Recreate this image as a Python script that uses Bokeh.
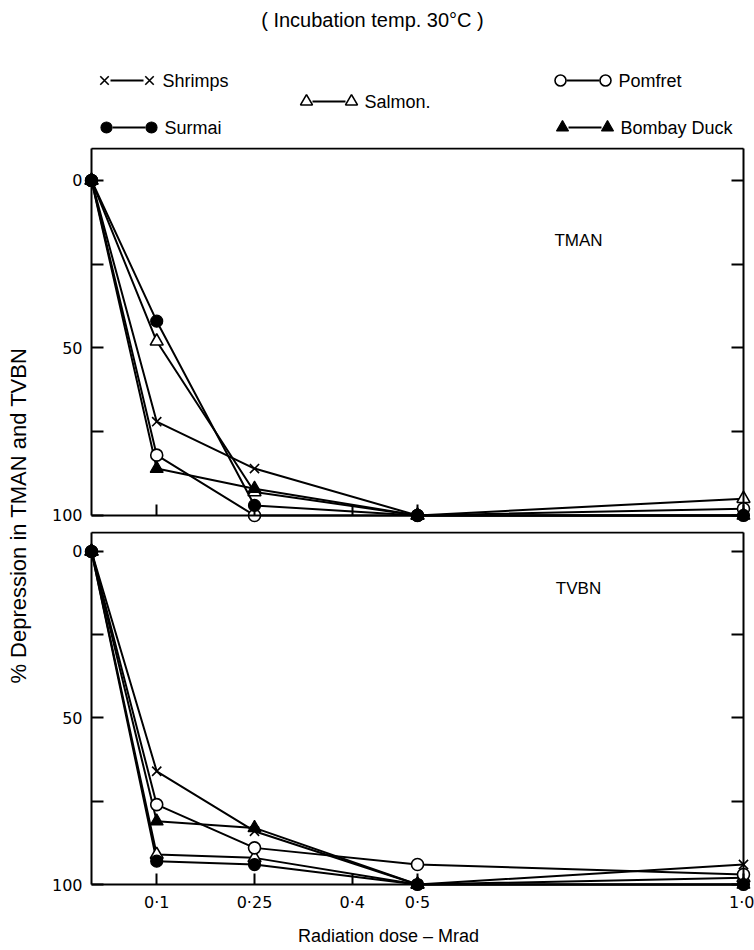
import math
from bokeh.plotting import figure
from bokeh.layouts import column, row
from bokeh.models import Range1d, LinearAxis, FixedTicker, CustomJSTickFormatter
from bokeh.embed import file_html
from bokeh.resources import INLINE
from bokeh.core.properties import value

# ---------------- data ----------------
dose = [0, 0.1, 0.25, 0.5, 1.0]
series = ["Shrimps", "Salmon.", "Pomfret", "Surmai", "Bombay Duck"]

tman_shrimps = [0, 72, 86, 100, 100]
tman_salmon = [0, 48, 93, 100, 95]
tman_pomfret = [0, 82, 100, 100, 98]
tman_surmai = [0, 42, 97, 100, 100]
tman_bombay = [0, 86, 92, 100, 100]

tvbn_shrimps = [0, 66, 84, 100, 94]
tvbn_salmon = [0, 91, 92, 100, 98]
tvbn_pomfret = [0, 76, 89, 94, 97]
tvbn_surmai = [0, 93, 94, 100, 100]
tvbn_bombay = [0, 81, 83, 100, 100]

x_ticks = [0.1, 0.25, 0.4, 0.5, 1.0]
x_tick_labels = ["0·1", "0·25", "0·4", "0·5", "1·0"]
y_ticks = [0, 50, 100]
y_minor_ticks = [25, 75]

title_text = "( Incubation temp. 30°C )"
y_label = "% Depression in TMAN and TVBN"
x_label = "Radiation dose – Mrad"

tman = dict(zip(series, [tman_shrimps, tman_salmon, tman_pomfret, tman_surmai, tman_bombay]))
tvbn = dict(zip(series, [tvbn_shrimps, tvbn_salmon, tvbn_pomfret, tvbn_surmai, tvbn_bombay]))

# ---------------- styles ----------------
FONT = "Liberation Sans"
TICKFONT = "DejaVu Sans"
styles = {
    "Shrimps": dict(marker="x", size=13, fill="black", lw=1.6),
    "Salmon.": dict(marker="triangle", size=13, fill="white", lw=1.6),
    "Pomfret": dict(marker="circle", size=12, fill="white", lw=1.6),
    "Surmai": dict(marker="circle", size=12, fill="black", lw=1.2),
    "Bombay Duck": dict(marker="triangle", size=13, fill="black", lw=1.2),
}

W = 754
HEAD_H = 146
LAB_W = 40
XPAD = 0.0123
YPAD = 2.4


def blank(p):
    p.xgrid.visible = False
    p.ygrid.visible = False
    p.outline_line_color = None
    p.background_fill_color = None
    p.border_fill_color = None


def no_labels():
    return CustomJSTickFormatter(code="return '';")


def x_formatter():
    return CustomJSTickFormatter(args=dict(tv=x_ticks, tl=x_tick_labels), code="""
        for (let i = 0; i < tv.length; i++) {
            if (Math.abs(tv[i] - tick) < 1e-9) { return tl[i]; }
        }
        return '';
    """)


def lines_only(ax, tick_in):
    ax.axis_line_width = 2
    ax.major_tick_in = tick_in
    ax.major_tick_out = 0
    ax.minor_tick_in = tick_in
    ax.minor_tick_out = 0
    ax.major_tick_line_width = 2
    ax.minor_tick_line_width = 2
    ax.major_label_standoff = 0


def labels_only(ax, standoff):
    ax.axis_line_color = None
    ax.major_tick_line_color = None
    ax.minor_tick_line_color = None
    ax.major_tick_in = 0
    ax.major_tick_out = 0
    ax.minor_tick_in = 0
    ax.minor_tick_out = 0
    ax.major_label_text_font = TICKFONT
    ax.major_label_text_font_size = "16px"
    ax.major_label_text_color = "black"
    ax.major_label_standoff = standoff


# ---------------- head (title + legend) ----------------
head = figure(width=W, height=HEAD_H, x_range=Range1d(0, W), y_range=Range1d(HEAD_H, 0),
              x_axis_location=None, y_axis_location=None, min_border=0,
              toolbar_location=None, output_backend="svg")
blank(head)
head.text(x=[372], y=[19], text=[title_text], text_align="center", text_baseline="middle",
          text_font=value(FONT), text_font_size="20px", text_color="black")

leg_x = [104, 306, 560, 106, 562]
leg_y = [80, 101, 80, 127, 127]
leg_gap = 45
for s, lx, ly in zip(series, leg_x, leg_y):
    st = styles[s]
    head.segment(x0=[lx + 6], y0=[ly], x1=[lx + leg_gap - 6], y1=[ly], line_color="black", line_width=2)
    head.scatter(x=[lx, lx + leg_gap], y=[ly, ly], marker=st["marker"], size=st["size"] - 1,
                 fill_color=st["fill"], line_color="black", line_width=st["lw"])
    head.text(x=[lx + leg_gap + 13], y=[ly], text=[s], text_align="left", text_baseline="middle",
              text_font=value(FONT), text_font_size="18px", text_color="black")


# ---------------- panels ----------------
def panel(data, height, y_top, top_pad, border_top, border_bottom, show_labels, order, origin, tag, tag_y):
    p = figure(width=W - LAB_W, height=height,
               x_range=Range1d(-XPAD, 1.0 + XPAD), y_range=Range1d(100 + YPAD, y_top - top_pad),
               x_axis_location=None, y_axis_location=None,
               min_border_left=43, min_border_right=3,
               min_border_top=border_top, min_border_bottom=border_bottom,
               toolbar_location=None, output_backend="svg")
    p.xgrid.visible = False
    p.ygrid.visible = False
    p.outline_line_color = None
    p.border_fill_color = "white"

    # tick labels (in the side panel, not clipped)
    ylab_ax = LinearAxis(ticker=FixedTicker(ticks=y_ticks))
    labels_only(ylab_ax, 1)
    p.add_layout(ylab_ax, "left")
    if show_labels:
        xlab_ax = LinearAxis(ticker=FixedTicker(ticks=x_ticks), formatter=x_formatter())
        labels_only(xlab_ax, 0)
        p.add_layout(xlab_ax, "below")

    # frame lines and inward ticks at the data borders
    lax = LinearAxis(ticker=FixedTicker(ticks=y_ticks, minor_ticks=y_minor_ticks),
                     fixed_location=0, bounds=(y_top, 100), formatter=no_labels())
    rax = LinearAxis(ticker=FixedTicker(ticks=y_ticks, minor_ticks=y_minor_ticks),
                     fixed_location=1.0, bounds=(y_top, 100), formatter=no_labels())
    bax = LinearAxis(ticker=FixedTicker(ticks=x_ticks), fixed_location=100, bounds=(0, 1.0),
                     formatter=no_labels())
    tax = LinearAxis(ticker=FixedTicker(ticks=[]), fixed_location=y_top, bounds=(0, 1.0),
                     formatter=no_labels())
    lines_only(lax, 12)
    lines_only(rax, 12)
    lines_only(bax, 11)
    bax.minor_tick_in = 0
    lines_only(tax, 0)
    p.add_layout(lax, "left")
    p.add_layout(rax, "right")
    p.add_layout(bax, "below")
    p.add_layout(tax, "above")

    for s in series:
        p.line(dose, data[s], line_color="black", line_width=2)
    for s in order:
        st = styles[s]
        p.scatter(dose, data[s], marker=st["marker"], size=st["size"], fill_color=st["fill"],
                  line_color="black", line_width=st["lw"])
    st = styles[origin]
    p.scatter(dose[:1], data[origin][:1], marker=st["marker"], size=st["size"], fill_color=st["fill"],
              line_color="black", line_width=st["lw"])

    p.text(x=[0.747], y=[tag_y], text=[tag], text_align="center", text_baseline="middle",
           text_font=value(FONT), text_font_size="17px", text_color="black")
    return p


TOP_H = 1 + 376 + 6
BOT_H = 2 + 361 + 30
XLAB_H = 28
top = panel(tman, height=TOP_H, y_top=-9.55, top_pad=0.3, border_top=1, border_bottom=6, show_labels=False,
            order=["Shrimps", "Salmon.", "Pomfret", "Surmai", "Bombay Duck"], origin="Surmai",
            tag="TMAN", tag_y=18)
bot = panel(tvbn, height=BOT_H, y_top=-5.7, top_pad=0.3, border_top=2, border_bottom=30, show_labels=True,
            order=["Shrimps", "Salmon.", "Pomfret", "Bombay Duck", "Surmai"], origin="Bombay Duck",
            tag="TVBN", tag_y=11)

# ---------------- x label strip ----------------
xlab = figure(width=W - LAB_W, height=XLAB_H, x_range=Range1d(LAB_W, W), y_range=Range1d(XLAB_H, 0),
              x_axis_location=None, y_axis_location=None, min_border=0,
              toolbar_location=None, output_backend="svg")
blank(xlab)
xlab.text(x=[366], y=[13], text=[x_label], text_align="center", text_baseline="middle",
          text_font=value(FONT), text_font_size="18px", text_color="black")

# ---------------- y label strip ----------------
LAB_H = TOP_H + BOT_H + XLAB_H
lab = figure(width=LAB_W, height=LAB_H, x_range=Range1d(0, LAB_W), y_range=Range1d(0, LAB_H),
             x_axis_location=None, y_axis_location=None, min_border=0,
             toolbar_location=None, output_backend="svg")
blank(lab)
lab.text(x=[18], y=[LAB_H - (515 - HEAD_H)], text=[y_label], angle=math.pi / 2,
         text_align="center", text_baseline="middle",
         text_font=value(FONT), text_font_size="22px", text_color="black")

layout = column(head, row(lab, column(top, bot, xlab, spacing=0), spacing=0), spacing=0)

open("out.html", "w").write(file_html(layout, INLINE))
